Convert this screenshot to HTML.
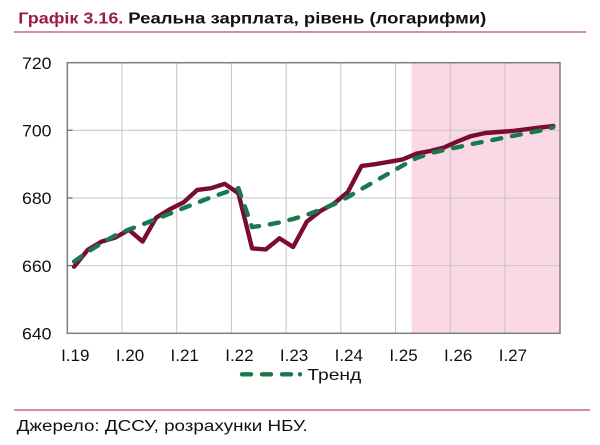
<!DOCTYPE html>
<html>
<head>
<meta charset="utf-8">
<style>
html,body{margin:0;padding:0;background:#fff;}
body{width:600px;height:445px;overflow:hidden;}
svg{display:block;}
text{font-family:"Liberation Sans",Arial,sans-serif;}
</style>
</head>
<body>
<svg width="600" height="445" viewBox="0 0 600 445" xmlns="http://www.w3.org/2000/svg">
  <!-- Title -->
  <text x="18.3" y="23.5" font-size="15.5" font-weight="bold" fill="#9b1b45" textLength="105" lengthAdjust="spacingAndGlyphs">Графік 3.16.</text>
  <text x="128.3" y="23.5" font-size="15.5" font-weight="bold" fill="#111" textLength="358" lengthAdjust="spacingAndGlyphs">Реальна зарплата, рівень (логарифми)</text>
  <line x1="14" y1="32" x2="586" y2="32" stroke="#c9687f" stroke-width="1.5"/>

  <!-- Forecast shading -->
  <rect x="411.7" y="62.7" width="148.3" height="270.6" fill="#fad8e6"/>

  <!-- Gridlines -->
  <g stroke="#c4c4c4" stroke-width="1">
    <line x1="67.3" y1="130.3" x2="560" y2="130.3"/>
    <line x1="67.3" y1="198" x2="560" y2="198"/>
    <line x1="67.3" y1="265.6" x2="560" y2="265.6"/>
    <line x1="122" y1="62.7" x2="122" y2="333.3"/>
    <line x1="176.7" y1="62.7" x2="176.7" y2="333.3"/>
    <line x1="231.4" y1="62.7" x2="231.4" y2="333.3"/>
    <line x1="286.1" y1="62.7" x2="286.1" y2="333.3"/>
    <line x1="340.8" y1="62.7" x2="340.8" y2="333.3"/>
    <line x1="395.5" y1="62.7" x2="395.5" y2="333.3"/>
    <line x1="450.2" y1="62.7" x2="450.2" y2="333.3"/>
    <line x1="504.9" y1="62.7" x2="504.9" y2="333.3"/>
  </g>

  <!-- Frame -->
  <rect x="67.3" y="62.7" width="492.7" height="270.6" fill="none" stroke="#7f7f7f" stroke-width="1.5"/>
  <g stroke="#7f7f7f" stroke-width="1.5">
    <line x1="67.3" y1="130.3" x2="72.5" y2="130.3"/>
    <line x1="67.3" y1="198" x2="72.5" y2="198"/>
    <line x1="67.3" y1="265.6" x2="72.5" y2="265.6"/>
  </g>

  <!-- Y labels -->
  <g font-size="17" fill="#111">
    <text x="22" y="69" textLength="29.5" lengthAdjust="spacingAndGlyphs">720</text>
    <text x="22" y="136.5" textLength="29.5" lengthAdjust="spacingAndGlyphs">700</text>
    <text x="22" y="204.2" textLength="29.5" lengthAdjust="spacingAndGlyphs">680</text>
    <text x="22" y="271.8" textLength="29.5" lengthAdjust="spacingAndGlyphs">660</text>
    <text x="22" y="339.5" textLength="29.5" lengthAdjust="spacingAndGlyphs">640</text>
  </g>

  <!-- X labels -->
  <g font-size="17" fill="#111" text-anchor="middle">
    <text x="75.3" y="361">I.19</text>
    <text x="130" y="361">I.20</text>
    <text x="184.7" y="361">I.21</text>
    <text x="239.4" y="361">I.22</text>
    <text x="294.1" y="361">I.23</text>
    <text x="348.8" y="361">I.24</text>
    <text x="403.5" y="361">I.25</text>
    <text x="458.2" y="361">I.26</text>
    <text x="512.9" y="361">I.27</text>
  </g>

  <!-- Actual series -->
  <polyline fill="none" stroke="#7a0c33" stroke-width="4.4" stroke-linejoin="round" stroke-linecap="round"
    points="74.1,266.7 87.8,249.8 101.5,241.6 115.2,237.6 128.9,229.8 142.6,241.6 156.2,217.6 169.9,209.2 183.6,202.4 197.3,189.9 211,188.2 224.7,183.8 238.4,193.3 252.1,248.4 265.8,249.4 279.5,238.3 293.1,247 306.8,221.7 320.5,210.9 334.2,203.4 347.9,191.9 361.6,165.9 375.3,164.2 389,161.8 402.7,159.4 416.4,153.7 430.1,151 443.7,147.6 457.4,141.5 471.1,136.1 484.8,133.1 498.5,132 512.2,131 525.9,129.3 539.6,127.6 553.3,126"/>

  <!-- Trend series -->
  <polyline fill="none" stroke="#18794a" stroke-width="4.4" stroke-linejoin="round" stroke-linecap="round" stroke-dasharray="9 11"
    points="74.1,261.6 87.8,251.8 101.5,243.3 115.2,235.5 128.9,229.5 142.6,224.4 156.2,219 169.9,213.6 183.6,208.1 197.3,202.7 211,197.3 224.7,192.6 238.4,188.2 252.1,227.1 265.8,225.1 279.5,222.4 293.1,219 306.8,214.9 320.5,209.8 334.2,204.1 347.9,197 361.6,188.9 375.3,181.1 389,173.3 402.7,165.5 416.4,158.1 430.1,153.3 443.7,150 457.4,147.3 471.1,144.2 484.8,141.5 498.5,138.8 512.2,136.1 525.9,133.4 539.6,130.7 553.3,127.3"/>

  <!-- Legend -->
  <line x1="242" y1="374.3" x2="292" y2="374.3" stroke="#18794a" stroke-width="4.4" stroke-linecap="round" stroke-dasharray="9 11"/>
  <circle cx="300" cy="374.3" r="2.2" fill="#18794a"/>
  <text x="307.3" y="379.8" font-size="16" fill="#111" textLength="54" lengthAdjust="spacingAndGlyphs">Тренд</text>

  <!-- Footer -->
  <line x1="14" y1="410" x2="590" y2="410" stroke="#c9687f" stroke-width="1.5"/>
  <text x="16.7" y="431" font-size="15.5" fill="#111" textLength="291" lengthAdjust="spacingAndGlyphs">Джерело: ДССУ, розрахунки НБУ.</text>
</svg>
</body>
</html>
